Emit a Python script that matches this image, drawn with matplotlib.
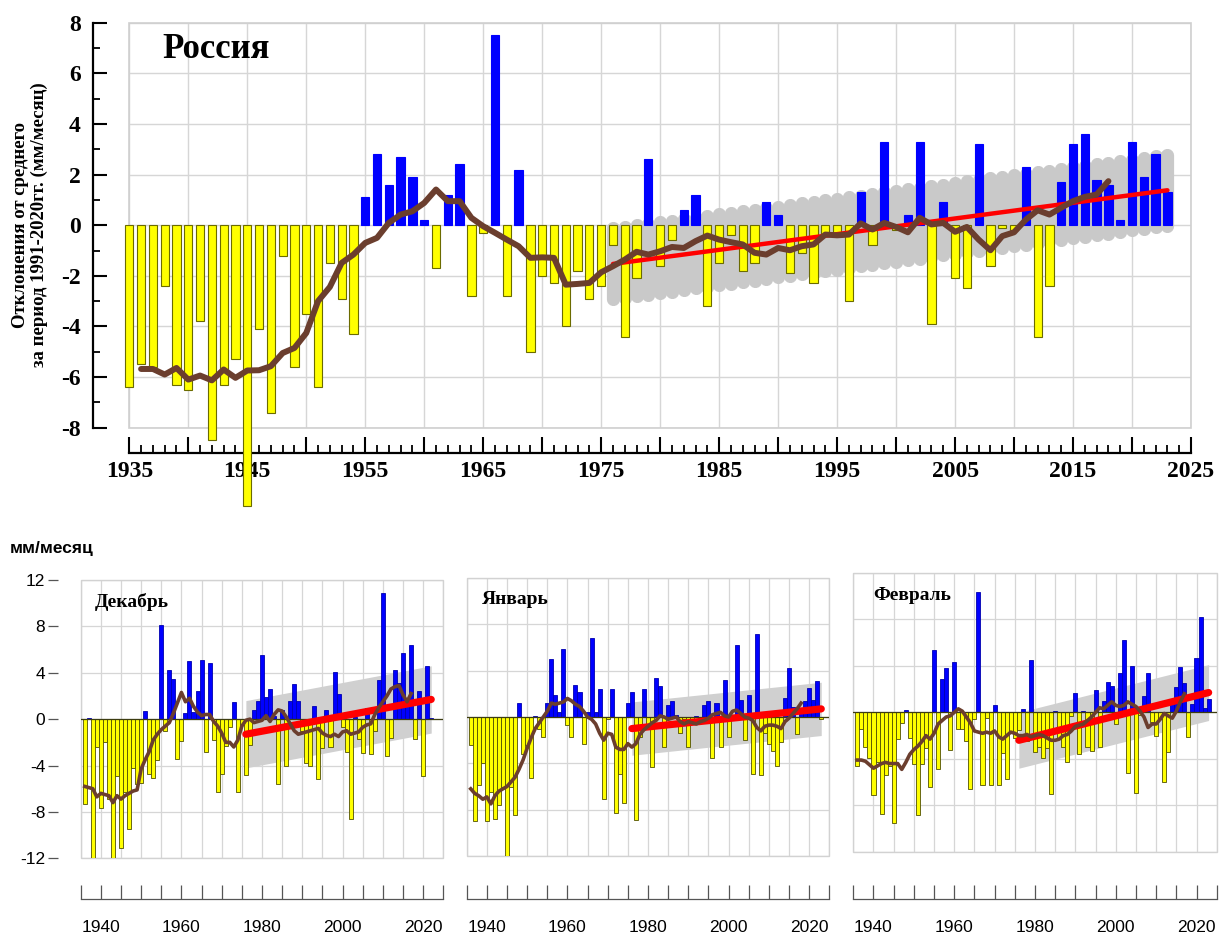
import numpy as np
import matplotlib
matplotlib.use("Agg")
import matplotlib.pyplot as plt
from matplotlib.ticker import MultipleLocator, FuncFormatter
from matplotlib.collections import LineCollection
from matplotlib.patches import Rectangle
from matplotlib import font_manager as fm

plt.rcParams["axes.unicode_minus"] = False

# ---------------- data ----------------
# Russia, winter precipitation anomalies (mm/month) relative to 1991-2020
russia_start = 1935
russia = [-6.4, -5.5, -5.6, -2.4, -6.3, -6.5, -3.8, -8.5, -6.3, -5.3,
          -11.1, -4.1, -7.4, -1.2, -5.6, -3.5, -6.4, -1.5, -2.9, -4.3,
          1.1, 2.8, 1.6, 2.7, 1.9, 0.2, -1.7, 1.2, 2.4, -2.8,
          -0.3, 7.5, -2.8, 2.2, -5.0, -2.0, -2.3, -4.0, -1.8, -2.9,
          -2.4, -0.8, -4.4, -2.1, 2.6, -1.6, -0.6, 0.6, 1.2, -3.2,
          -1.5, -0.4, -1.8, -1.5, 0.9, 0.4, -1.9, -1.1, -2.3, -0.4,
          -0.4, -3.0, 1.3, -0.8, 3.3, -0.2, 0.4, 3.3, -3.9, 0.9,
          -2.1, -2.5, 3.2, -1.6, -0.1, -0.2, 2.3, -4.4, -2.4, 1.7,
          3.2, 3.6, 1.8, 1.6, 0.2, 3.3, 1.9, 2.8, 1.3]
russia_ma_start = 1936
russia_ma = [-5.68, -5.68, -5.9, -5.64, -6.1, -5.94, -6.13, -5.7, -6.03, -5.74,
             -5.73, -5.57, -5.05, -4.85, -4.26, -3.0, -2.44, -1.49, -1.16, -0.7,
             -0.5, 0.09, 0.42, 0.55, 0.88, 1.41, 0.95, 0.95, 0.29, -0.04,
             -0.3, -0.57, -0.83, -1.29, -1.27, -1.29, -2.35, -2.32, -2.28, -1.86,
             -1.62, -1.36, -1.05, -1.16, -1.03, -0.86, -0.9, -0.63, -0.41, -0.57,
             -0.67, -0.76, -1.09, -1.16, -0.9, -0.99, -0.83, -0.76, -0.37, -0.4,
             -0.37, 0.07, -0.17, 0.09, -0.07, -0.28, 0.29, 0.03, 0.09, -0.26,
             -0.07, -0.57, -0.99, -0.43, -0.28, 0.22, 0.59, 0.42, 0.69, 0.95,
             1.12, 1.21, 1.74]
russia_trend_years = [1976, 2023]
russia_trend = [-1.53, 1.38]
russia_band = 1.65

# December
dec_start = 1936
dec = [-7.3, 0.1, -12.1, -2.4, -7.7, -2.0, -6.9, -12.0, -4.9, -11.1,
       -6.3, -9.5, -4.2, -5.6, -5.5, 0.7, -4.7, -5.1, -3.5, 8.1,
       -1.0, 4.2, 3.5, -3.4, -1.9, 0.5, 5.0, 0.6, 2.4, 5.1,
       -2.8, 4.8, -1.8, -6.3, -4.7, -2.3, -0.7, 1.5, -6.3, -0.5,
       -4.8, -2.2, 0.8, 1.6, 5.5, 1.9, 2.6, 0.3, -5.6, 0.8,
       -4.0, 1.6, 3.0, 1.6, -1.0, -3.8, -4.0, 1.1, -5.2, -2.5,
       0.8, -2.4, 4.1, 2.2, -0.7, -2.8, -8.6, 0.2, -1.7, -2.9,
       1.0, -3.0, -1.0, 3.4, 10.9, -3.2, -1.6, 4.2, 3.1, 5.7,
       1.5, 6.4, -1.7, 2.4, -4.9, 4.6, 0.1]
dec_ma_start = 1936
dec_ma = [-5.8, -5.9, -6.0, -6.7, -6.4, -6.5, -6.6, -7.2, -6.6, -6.9,
          -6.6, -6.4, -6.2, -6.1, -4.3, -3.5, -2.8, -1.8, -1.3, -0.9,
          -0.6, -0.3, 0.5, 1.4, 2.3, 1.5, 1.8, 1.1, 0.6, 0.3,
          0.4, 0.4, -0.2, -0.6, -1.2, -2.0, -2.0, -2.4, -1.8, -0.6,
          -0.1, 0.0, -0.3, -0.2, -0.1, 0.3, -0.2, 0.4, 0.8, 0.7,
          0.2, -0.4, -1.0, -1.3, -1.2, -1.1, -1.0, -0.9, -0.8, -1.2,
          -1.4, -1.5, -1.3, -1.5, -1.1, -1.0, -1.3, -1.2, -1.1, -0.7,
          -0.5, -0.4, 0.4, 1.0, 1.5, 2.0, 2.6, 2.8, 2.9, 2.1,
          1.5, 2.2]
dec_trend_years = [1976, 2022]
dec_trend = [-1.3, 1.7]
dec_band = 2.9

# January
jan_start = 1936
jan = [-2.4, -9.0, -5.9, -4.0, -9.0, -6.5, -8.8, -7.6, -6.0, -12.0,
       -6.0, -8.5, 1.2, -3.2, -2.4, -5.3, 0.05, -1.0, -1.7, 1.2,
       5.0, 1.9, 0.4, 5.9, -0.7, -1.7, 2.8, 2.2, -2.3, 0.4,
       6.8, 0.4, 2.4, -7.1, -0.2, 2.4, -8.3, -4.9, -7.4, 1.2,
       2.2, -8.9, -1.7, 2.4, -0.7, -4.3, 3.4, 2.7, -2.6, 1.0,
       1.35, 0.2, -1.4, -0.2, -2.6, -0.3, 0.1, -0.4, 1.0, 1.35,
       -3.5, 1.25, -2.6, 3.2, -1.7, -0.3, 6.2, 1.5, -1.95, 1.9,
       -4.9, 7.2, -5.0, -1.4, -2.3, -2.9, -4.25, -2.2, 1.6, 4.25,
       0.9, -1.5, 0.5, 1.4, 2.5, 1.5, 3.1, -0.2]
jan_ma_start = 1936
jan_ma = [-6.2, -6.6, -6.8, -7.1, -6.9, -7.5, -6.8, -6.4, -6.2, -6.0,
          -5.6, -5.2, -4.5, -3.7, -2.7, -1.8, -1.0, -0.5, 0.0, 0.5,
          1.2, 1.1, 1.2, 1.3, 1.6, 1.4, 1.1, 0.9, 0.5, 0.0,
          -0.2, -0.6, -1.4, -2.0, -1.4, -1.5, -2.6, -2.8, -2.8, -2.3,
          -2.6, -2.3, -1.5, -1.1, -0.8, -0.5, -0.3, 0.1, 0.0, -0.2,
          -0.1, 0.0, -0.4, -0.6, -0.4, -0.5, -0.6, -0.4, -0.3, -0.1,
          0.2, 0.3, 0.4, 0.1, 0.0, 0.5, 0.6, 0.3, 0.0, -0.1,
          -0.3, -0.9, -1.2, -0.8, -0.7, -0.7, -0.8, -1.0, -0.4, -0.1,
          0.3, 0.7, 1.2]
jan_trend_years = [1976, 2023]
jan_trend = [-1.0, 0.7]
jan_band = 2.3

# February
feb_start = 1936
feb = [-4.6, -1.4, -3.0, -3.9, -7.1, -4.3, -8.7, -5.4, -4.6, -9.5,
       -2.3, -0.9, 0.2, -2.2, -4.4, -8.8, -4.4, -3.1, -6.4, 5.4,
       -4.9, 2.9, 3.8, -3.2, 4.35, -1.4, -1.4, -2.5, -6.6, -0.6,
       10.3, -6.2, -0.5, -6.2, 0.6, -6.2, -3.5, -5.7, -1.8, -2.2,
       -1.5, 0.3, -2.5, 4.5, -3.4, -3.0, -3.9, -3.1, -7.0, 0.1,
       -2.3, -3.0, -4.3, -0.3, 1.7, -3.6, 0.15, -3.0, -3.3, 1.95,
       -3.0, 1.0, 2.6, 2.3, -1.0, 3.4, 6.2, -5.2, 4.0, -6.9,
       -0.2, 1.4, 3.4, -0.8, -2.0, -0.6, -6.0, -3.4, 1.0, 2.2,
       3.9, 2.5, -2.1, 0.7, 4.7, 8.2, 0.4, 1.15]
feb_ma_start = 1936
feb_ma = [-4.1, -4.1, -4.2, -4.5, -4.8, -4.6, -4.4, -4.3, -4.4, -4.4,
          -4.4, -4.9, -4.3, -3.6, -3.2, -2.9, -2.5, -2.0, -2.3, -1.8,
          -1.0, -0.7, -0.4, -0.3, 0.0, 0.3, 0.1, -0.4, -0.9, -1.6,
          -1.7, -1.8, -1.7, -1.8, -1.6, -2.1, -2.3, -2.0, -1.7, -1.8,
          -2.0, -2.0, -1.9, -2.1, -2.0, -1.9, -2.0, -2.2, -2.4, -2.4,
          -2.3, -2.0, -1.9, -1.6, -1.2, -1.1, -1.0, -0.7, -0.4, 0.0,
          0.4, 0.3, 0.6, 0.9, 0.6, 0.5, 0.6, 0.9, 0.7, 0.5,
          0.1, -0.4, -1.3, -1.0, -1.0, -0.6, -0.1, -0.3, -0.5, 0.1,
          0.9, 1.6]
feb_trend_years = [1976, 2023]
feb_trend = [-2.4, 1.7]
feb_band = 2.4

# ---------------- styling ----------------
W, H = 1222, 940
BLUE = "#0000ff"
YELLOW = "#ffff00"
BROWN = "#6b3e2e"
RED = "#ff0000"
GRID = "#d6d6d6"
SERIF = "Liberation Serif"
AXIS_Y_PX = 899  # common level of the monthly panels' year axes


def pick_family(cands):
    for c in cands:
        try:
            fm.findfont(fm.FontProperties(family=c), fallback_to_default=False)
            return c
        except Exception:
            pass
    return "DejaVu Sans"


SANS = pick_family(["Liberation Sans Narrow", "Liberation Sans"])
SANS_SIZE = 14 if "Narrow" in SANS else 12.5

fig = plt.figure(figsize=(W / 100, H / 100), dpi=100)


def px_rect(x0, y0, x1, y1):
    return [x0 / W, 1 - y1 / H, (x1 - x0) / W, (y1 - y0) / H]


def frame(ax, color="#cfcfcf", lw=1.2):
    ax.add_patch(Rectangle((0, 0), 1, 1, transform=ax.transAxes, fill=False,
                           edgecolor=color, lw=lw, clip_on=False, zorder=0.6))


# ---------------- main panel ----------------
ax = fig.add_axes(px_rect(129.3, 22.7, 1191, 427.7))
ax.set_xlim(1935, 2025)
ax.set_ylim(-8, 8)
ax.set_axisbelow(True)
ax.grid(True, which="major", color=GRID, lw=1.0)
for s in ("top", "right"):
    ax.spines[s].set_visible(False)
frame(ax)

yrs = np.arange(russia_start, russia_start + len(russia))
vals = np.array(russia)
ax.bar(yrs, vals, width=0.7,
       color=[BLUE if v >= 0 else YELLOW for v in vals],
       edgecolor=[BLUE if v >= 0 else "#6b6b00" for v in vals],
       lw=0.8, zorder=3, clip_on=False)

# confidence band as rounded vertical strokes around the trend
band_years = np.arange(russia_trend_years[0], russia_trend_years[1] + 1)
band_center = np.interp(band_years, russia_trend_years, russia_trend)
inner = russia_band - 0.25
segs = [[(x, c - inner), (x, c + inner)] for x, c in zip(band_years, band_center)]
ax.add_collection(LineCollection(segs, colors="#c9c9c9", linewidths=9.5,
                                 capstyle="round", zorder=2))

ax.plot(russia_trend_years, russia_trend, color=RED, lw=3.2, zorder=4,
        solid_capstyle="round")
ma_yrs = np.arange(russia_ma_start, russia_ma_start + len(russia_ma))
ax.plot(ma_yrs, russia_ma, color=BROWN, lw=4.3, zorder=5,
        solid_joinstyle="round", solid_capstyle="round")

ax.xaxis.set_major_locator(MultipleLocator(5))
ax.xaxis.set_minor_locator(MultipleLocator(1))
ax.xaxis.set_major_formatter(FuncFormatter(
    lambda v, p: f"{int(round(v))}" if (int(round(v)) - 1935) % 10 == 0 else ""))
ax.yaxis.set_major_locator(MultipleLocator(2))
ax.yaxis.set_minor_locator(MultipleLocator(1))
ax.yaxis.set_major_formatter(FuncFormatter(lambda v, p: f"{int(round(v))}"))

ax.spines["bottom"].set_position(("outward", 18))
ax.spines["bottom"].set_linewidth(1.6)
ax.spines["bottom"].set_bounds(1935, 2025)
ax.spines["left"].set_position(("outward", 26))
ax.spines["left"].set_linewidth(1.6)
ax.spines["left"].set_bounds(-8, 8)
ax.tick_params(axis="x", which="major", direction="in", length=11.5, width=1.5, pad=6)
ax.tick_params(axis="x", which="minor", direction="in", length=5.8, width=1.3)
ax.tick_params(axis="y", which="major", direction="in", length=10, width=1.5, pad=9)
ax.tick_params(axis="y", which="minor", direction="in", length=5, width=1.3)
for lab in ax.get_xticklabels() + ax.get_yticklabels():
    lab.set_fontfamily(SERIF)
    lab.set_fontweight("bold")
    lab.set_fontsize(17)

ax.text(0.031, 0.933, "Россия", transform=ax.transAxes, ha="left", va="center",
        fontfamily=SERIF, fontweight="bold", fontsize=25, zorder=6)

fig.text(30 / W, 1 - 225 / H,
         "Отклонения от среднего\nза период 1991-2020гг. (мм/месяц)",
         rotation=90, ha="center", va="center", multialignment="center",
         fontfamily=SERIF, fontweight="bold", fontsize=13.5, linespacing=1.1)


# ---------------- monthly panels ----------------
def month_panel(box, title, title_xy, start, values, ma_start, ma,
                trend_years, trend, half, show_y):
    a = fig.add_axes(px_rect(*box))
    a.set_xlim(1935, 2025)
    a.set_ylim(-12, 12)
    a.set_axisbelow(True)
    a.xaxis.set_major_locator(MultipleLocator(5))
    a.yaxis.set_major_locator(MultipleLocator(4))
    a.grid(True, color=GRID, lw=0.9)
    for s in ("top", "right"):
        a.spines[s].set_visible(False)
    frame(a, color="#d2d2d2", lw=1.0)

    ty = np.array(trend_years, dtype=float)
    tv = np.array(trend)
    a.fill_between(ty, tv - half, tv + half, color="#d0d0d0", lw=0, zorder=1.5)

    yy = np.arange(start, start + len(values))
    vv = np.array(values)
    a.bar(yy, vv, width=1.0,
          color=[BLUE if v >= 0 else YELLOW for v in vv],
          edgecolor=["#0000b0" if v >= 0 else "#505000" for v in vv],
          lw=0.6, zorder=3)
    a.axhline(0, color="#3c3c10", lw=0.9, zorder=3.2)
    a.plot(ty, tv, color=RED, lw=5.2, zorder=4, solid_capstyle="round")
    my = np.arange(ma_start, ma_start + len(ma))
    a.plot(my, ma, color=BROWN, lw=2.6, zorder=5, solid_joinstyle="round")

    # separate year axis placed on a common level below the panels
    a.spines["bottom"].set_position(("outward", (AXIS_Y_PX - box[3]) * 0.72))
    a.spines["bottom"].set_color("#555555")
    a.spines["bottom"].set_linewidth(0.9)
    a.spines["bottom"].set_bounds(1935, 2025)
    a.xaxis.set_major_formatter(FuncFormatter(
        lambda v, p: f"{int(round(v))}" if int(round(v)) % 20 == 0 else ""))
    a.tick_params(axis="x", direction="in", length=10, width=0.9,
                  color="#555555", pad=15, labelsize=SANS_SIZE)
    a.spines["left"].set_position(("outward", 16.5))
    a.spines["left"].set_color("none")
    if show_y:
        a.yaxis.set_major_formatter(FuncFormatter(lambda v, p: f"{int(round(v))}"))
        a.tick_params(axis="y", direction="out", length=7, width=0.9,
                      color="#555555", pad=2, labelsize=SANS_SIZE)
    else:
        a.tick_params(axis="y", length=0, labelleft=False)
    for lab in a.get_xticklabels() + a.get_yticklabels():
        lab.set_fontfamily(SANS)

    a.text(title_xy[0], title_xy[1], title, transform=a.transAxes,
           ha="left", va="center", fontfamily=SERIF, fontweight="bold",
           fontsize=14, zorder=6)
    return a


month_panel((80.7, 580, 443.3, 858.3), "Декабрь", (0.039, 0.922),
            dec_start, dec, dec_ma_start, dec_ma, dec_trend_years, dec_trend,
            dec_band, True)
month_panel((466.7, 578, 829.3, 856), "Январь", (0.042, 0.921),
            jan_start, jan, jan_ma_start, jan_ma, jan_trend_years, jan_trend,
            jan_band, False)
month_panel((853.3, 572.7, 1216.7, 852), "Февраль", (0.054, 0.92),
            feb_start, feb, feb_ma_start, feb_ma, feb_trend_years, feb_trend,
            feb_band, False)

fig.text(10 / W, 1 - 548 / H, "мм/месяц", ha="left", va="center",
         fontfamily=SANS, fontweight="bold", fontsize=SANS_SIZE)

fig.savefig("out.png", dpi=100)
